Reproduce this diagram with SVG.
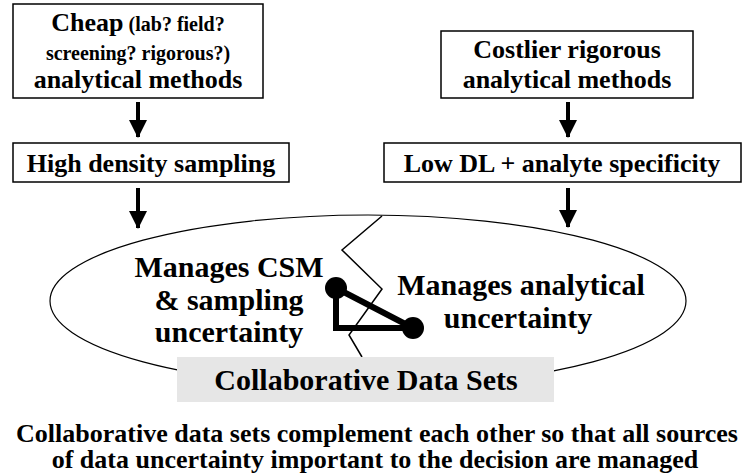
<svg xmlns="http://www.w3.org/2000/svg" width="751" height="474" viewBox="0 0 751 474">
  <style>
    .box { fill: #ffffff; stroke: #000000; stroke-width: 1.5; }
    text { font-family: 'Liberation Serif', 'Tinos', 'Times New Roman', 'DejaVu Serif', serif; font-weight: 700; fill: #000000; text-anchor: middle; }
    .big { font-size: 26px; }
    .small { font-size: 20px; }
    .lbl { font-size: 30px; }
    .arrow { stroke: #000000; stroke-width: 4; fill: none; }
  </style>
  <defs>
    <marker id="head" markerUnits="userSpaceOnUse" markerWidth="18" markerHeight="18" refX="17" refY="9" orient="auto" viewBox="0 0 18 18">
      <path d="M0,0 L18,9 L0,18 Z" fill="#000000"/>
    </marker>
  </defs>

  <rect width="751" height="474" fill="#ffffff"/>

  <!-- Left branch: cheap methods -->
  <g id="cheap-methods">
    <rect class="box" x="13" y="4" width="250" height="94"/>
    <text x="138" y="31" font-family="Liberation Serif, serif"><tspan class="big">Cheap</tspan><tspan class="small"> (lab? field?</tspan></text>
    <text class="small" x="138" y="60" font-family="Liberation Serif, serif">screening? rigorous?)</text>
    <text class="big" x="138" y="88" font-family="Liberation Serif, serif">analytical methods</text>
  </g>

  <g id="high-density">
    <rect class="box" x="13" y="143" width="276" height="39"/>
    <text class="big" x="151" y="172" font-family="Liberation Serif, serif">High density sampling</text>
  </g>

  <!-- Right branch: rigorous methods -->
  <g id="costlier-methods">
    <rect class="box" x="441" y="31" width="252" height="67"/>
    <text class="big" x="567" y="58" font-family="Liberation Serif, serif">Costlier rigorous</text>
    <text class="big" x="567" y="88" font-family="Liberation Serif, serif">analytical methods</text>
  </g>

  <g id="low-dl">
    <rect class="box" x="384" y="143" width="357" height="39"/>
    <text class="big" x="562" y="172" font-family="Liberation Serif, serif">Low DL + analyte specificity</text>
  </g>

  <!-- Combined data sets -->
  <g id="collaborative">
    <ellipse cx="368" cy="301" rx="318" ry="86" fill="none" stroke="#000000" stroke-width="1.2"/>
    <polyline points="382,216 342,250 382,289 349,335 362,357" fill="none" stroke="#000000" stroke-width="1.5"/>
    <g id="link-symbol">
      <polygon points="336,288 336,328 413,328" fill="none" stroke="#000000" stroke-width="6" stroke-linejoin="miter"/>
      <circle cx="336" cy="288" r="11" fill="#000000"/>
      <circle cx="413" cy="328" r="11" fill="#000000"/>
    </g>
    <text class="lbl" x="229" y="277" font-family="Liberation Serif, serif">Manages CSM</text>
    <text class="lbl" x="229" y="310" font-family="Liberation Serif, serif">&amp; sampling</text>
    <text class="lbl" x="229" y="342" font-family="Liberation Serif, serif">uncertainty</text>
    <text class="lbl" x="521" y="295" font-family="Liberation Serif, serif">Manages analytical</text>
    <text class="lbl" x="518" y="328" font-family="Liberation Serif, serif">uncertainty</text>
    <rect x="177" y="357" width="377" height="45" fill="#e6e6e6"/>
    <text class="lbl" x="366" y="390" font-family="Liberation Serif, serif">Collaborative Data Sets</text>
  </g>

  <!-- Flow arrows -->
  <g id="connectors">
    <line class="arrow" x1="138" y1="102" x2="138" y2="137" marker-end="url(#head)"/>
    <line class="arrow" x1="568" y1="102" x2="568" y2="137" marker-end="url(#head)"/>
    <line class="arrow" x1="138" y1="188" x2="138" y2="228" marker-end="url(#head)"/>
    <line class="arrow" x1="568" y1="188" x2="568" y2="227" marker-end="url(#head)"/>
  </g>

  <g id="caption">
    <text class="big" x="377" y="442" font-family="Liberation Serif, serif">Collaborative data sets complement each other so that all sources</text>
    <text class="big" x="375" y="468" font-family="Liberation Serif, serif">of data uncertainty important to the decision are managed</text>
  </g>
</svg>
